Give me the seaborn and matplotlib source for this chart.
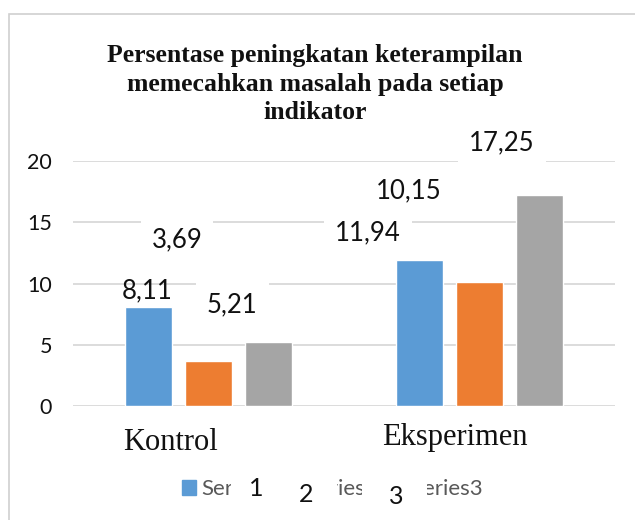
import numpy as np
import pandas as pd
import matplotlib
matplotlib.use("Agg")
import matplotlib.pyplot as plt
import matplotlib.transforms as mtransforms
from matplotlib.patches import Rectangle
import seaborn as sns

# Data
kelompok = ["Kontrol", "Eksperimen"]
seri = ["Series1", "Series2", "Series3"]
nilai_series1 = [8.11, 11.94]
nilai_series2 = [3.69, 10.15]
nilai_series3 = [5.21, 17.25]
label_nilai = ["8,11", "3,69", "5,21", "11,94", "10,15", "17,25"]
angka_legend = ["1", "2", "3"]
yticks = [0, 5, 10, 15, 20]

warna = ["#5B9BD5", "#ED7D31", "#A5A5A5"]

df = pd.DataFrame({
    "kelompok": kelompok * 3,
    "seri": [s for s in seri for _ in kelompok],
    "nilai": nilai_series1 + nilai_series2 + nilai_series3,
})

sns.set_style("white")
plt.rcParams["font.family"] = ["Lato", "DejaVu Sans"]

W, H = 635, 520
fig = plt.figure(figsize=(W / 100, H / 100), dpi=100)
ax = fig.add_axes([73 / W, 1 - 406 / H, 542 / W, 245 / H])

sns.barplot(data=df, x="kelompok", y="nilai", hue="seri", palette=warna,
            width=0.664, gap=0.22, saturation=1, ax=ax, legend=False,
            zorder=6)

ax.set_xlim(-0.5, 1.5)
ax.set_ylim(0, 20)
ax.set_yticks(yticks)
ax.set_yticklabels([str(t) for t in yticks], fontsize=15.5, color="#111111")
ax.tick_params(axis="y", length=0, pad=15)
ax.tick_params(axis="x", length=0, labelbottom=False)
ax.set_xlabel("")
ax.set_ylabel("")
for sp in ax.spines.values():
    sp.set_visible(False)
ax.yaxis.grid(True, color="#d9d9d9", linewidth=1.3, zorder=0)
ax.set_axisbelow(True)

# data labels (placed like the text boxes in the original)
pos_label = [(-0.225, 9.39), (-0.116, 13.55), (0.088, 8.24),
             (0.589, 14.12), (0.740, 17.55), (1.083, 21.47)]
pakai_kotak = [False, True, True, True, True, True]
for teks, (lx, ly), kotak in zip(label_nilai, pos_label, pakai_kotak):
    bb = dict(facecolor="white", edgecolor="none",
              boxstyle="square,pad=0.42") if kotak else None
    ax.text(lx, ly, teks, ha="center", va="center", fontsize=18.5,
            color="#111111", zorder=5, bbox=bb)

# category names
campur = mtransforms.blended_transform_factory(ax.transData, fig.transFigure)
pos_kat = [(-0.142, 443), (0.910, 437)]
for nama, (kx, ky) in zip(kelompok, pos_kat):
    ax.text(kx, 1 - ky / H, nama, transform=campur,
            ha="center", va="center", fontsize=22,
            family="Liberation Serif", color="#111111")

# title
fig.text(315 / W, 1 - 84 / H,
         "Persentase peningkatan keterampilan\nmemecahkan masalah pada setiap\nindikator",
         ha="center", va="center", fontsize=18.5, fontweight="bold",
         family="Liberation Serif", linespacing=1.28, color="#111111")

# legend
handles = [Rectangle((0, 0), 1, 1, color=c) for c in warna]
fig.legend(handles, seri, loc="center", bbox_to_anchor=(332 / W, 1 - 489 / H),
           ncol=3, frameon=False, fontsize=16, handlelength=0.64,
           handleheight=0.64, handletextpad=0.25, columnspacing=0.6,
           labelcolor="#595959")

# white boxes with numbers over the legend
for (x0, x1) in [(231, 337), (362, 427)]:
    fig.patches.append(Rectangle((x0 / W, 1 - 510 / H), (x1 - x0) / W, 40 / H,
                                 transform=fig.transFigure, facecolor="white",
                                 edgecolor="none", zorder=10))
for teks, (nx, ny) in zip(angka_legend, [(256, 488), (306, 494), (396, 497)]):
    fig.text(nx / W, 1 - ny / H, teks, ha="center", va="center",
             fontsize=18, color="#111111", zorder=11)

# chart border
fig.patches.append(Rectangle((8.5 / W, -0.1), 1.0, 1 - 13.5 / H + 0.1,
                             transform=fig.transFigure, facecolor="none",
                             edgecolor="#d0d0d0", linewidth=1.2, zorder=1))

fig.savefig("out.png", dpi=100)
